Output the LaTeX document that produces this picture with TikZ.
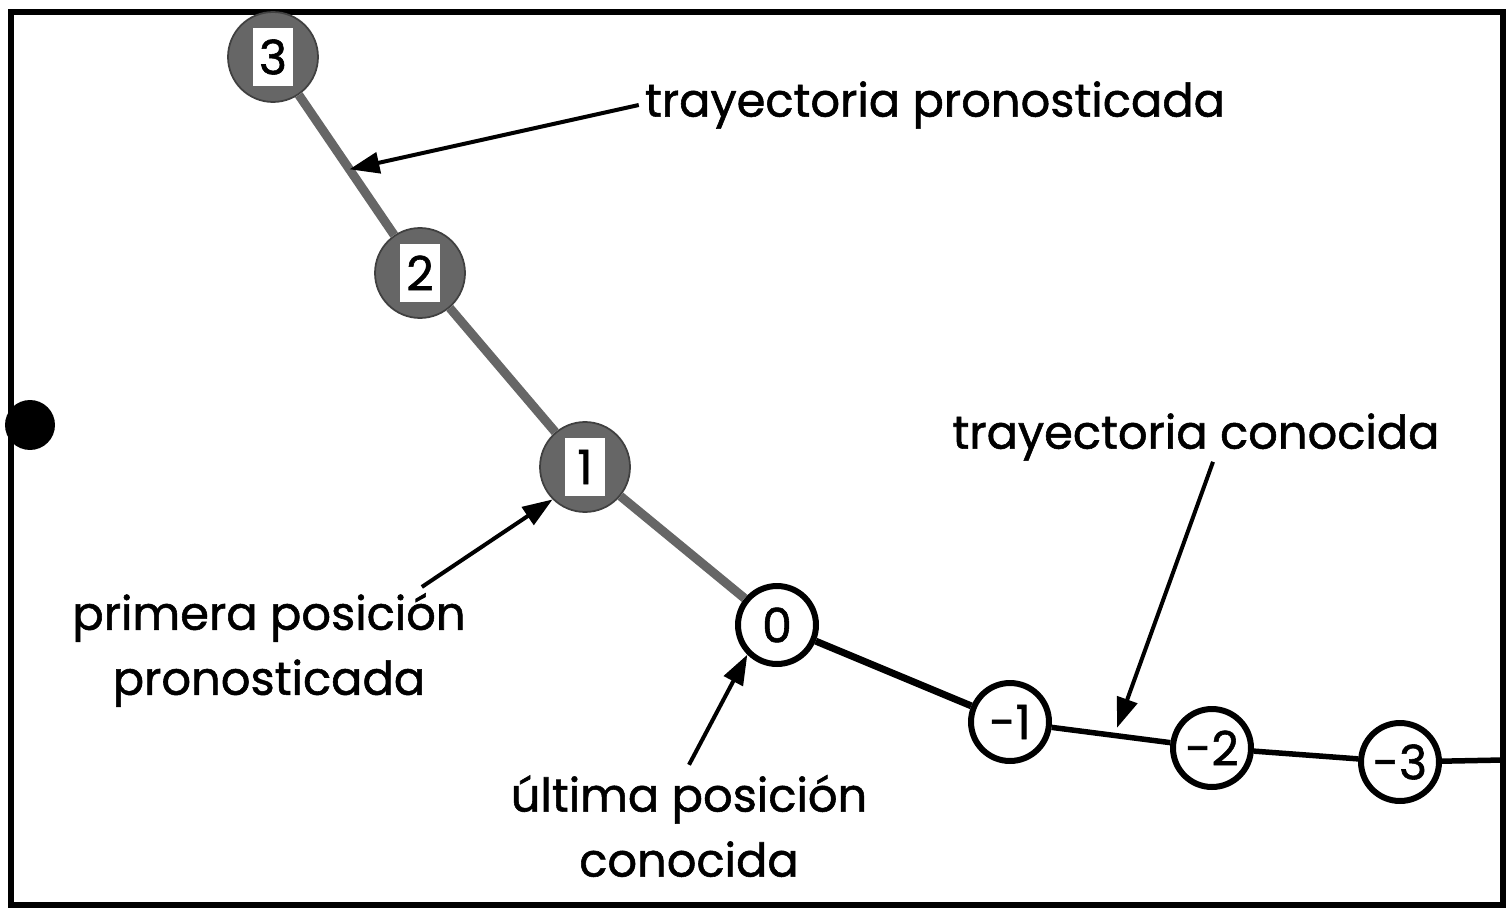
\documentclass[tikz,border=0pt]{standalone}
\usepackage{fontspec}
\setmainfont{Poppins}[UprightFeatures={FakeBold=1.2}]
\usetikzlibrary{arrows.meta, positioning, calc}

\begin{document}
\begin{tikzpicture}[x=0.02cm, y=-0.02cm,
  pred/.style={circle, fill=black!60, draw=black!75, line width=1pt, minimum size=1.8cm, inner sep=0pt, label={[numbox]center:#1}},
  numbox/.style={rectangle, fill=white, inner sep=0pt, minimum width=0.8cm, minimum height=1.15cm, font=\fontsize{27}{27}\selectfont},
  known/.style={circle, draw=black, fill=white, line width=0.12cm, minimum size=1.56cm, inner sep=0pt, font=\fontsize{27}{27}\selectfont},
  lbl/.style={align=center, font=\fontsize{26.4}{37}\selectfont},
  predline/.style={line width=0.18cm, draw=black!60},
  knownline/.style={line width=0.11cm, draw=black},
  arrow/.style={-{Triangle[length=0.6cm, width=0.42cm]}, line width=0.08cm}
]
\useasboundingbox (0,0) rectangle (1511,909);
\draw[line width=0.12cm] (11,12) rectangle (1503,905);

% Nodes
\node[circle, fill=black, minimum size=1cm, inner sep=0pt] (dot) at (30,425) {};
\node[pred=3] (p3) at (273,57) {};
\node[pred=2] (p2) at (420,273) {};
\node[pred=1] (p1) at (585,467) {};
\node[known] (k0) at (777,625) {0};
\node[known] (km1) at (1010,722) {-1};
\node[known] (km2) at (1212,748) {-2};
\node[known] (km3) at (1400,762) {-3};
\coordinate (edge) at (1503,760);

\node[lbl] (pron) at (935,105) {trayectoria pronosticada};
\node[lbl] (cono) at (1196,437) {trayectoria conocida};
\node[lbl] (prim) at (269,650) {primera posición\\pronosticada};
\node[lbl] (ulti) at (689,826) {última posición\\conocida};

% Lines
\draw[predline] (p3) -- (p2);
\draw[predline] (p2) -- (p1);
\draw[predline] (p1) -- (k0);
\draw[knownline, line width=0.14cm] (k0) -- (km1);
\draw[knownline] (km1) -- (km2);
\draw[knownline] (km2) -- (km3);
\draw[knownline] (km3) -- (edge);

% Arrows
\draw[arrow] (pron.west) -- ($(p3)!0.52!(p2)$);
\draw[arrow] (prim.north east) ++(-50,0) coordinate (primtail) -- (p1.south west);
\draw[arrow] (ulti.north) ++(0,-4) -- (k0.south west);
\draw[arrow] (cono.south) ++(17,-5) -- ($(km1)!0.53!(km2)+(0,-8)$);

\end{tikzpicture}
\end{document}
